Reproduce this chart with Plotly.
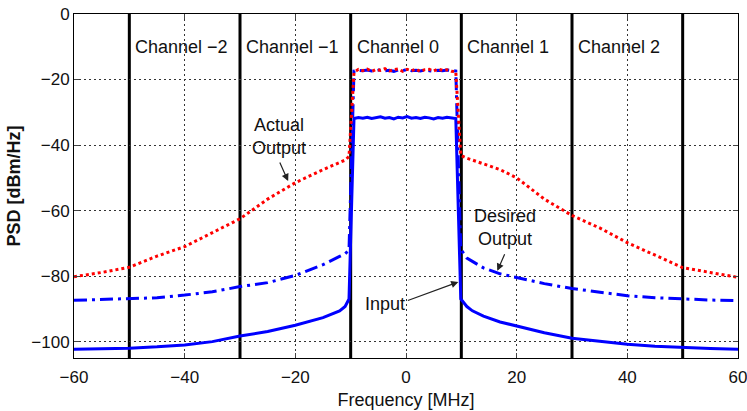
import plotly.graph_objects as go

# ---- data ----
freq_left = [-60, -55, -50, -45, -40, -35, -30, -25, -20, -15, -12, -11, -10.3]
freq_band = [-9.4, -8.6, -7.8, -7.0, -6.2, -5.4, -4.6, -3.8, -3.0, -2.2, -1.4, -0.6,
             0.2, 1.0, 1.8, 2.6, 3.4, 4.2, 5.0, 5.8, 6.6, 7.4, 8.2, 9.0]
freq_right = [9.9, 11, 12, 14, 17, 20, 25, 30, 35, 40, 45, 50, 55, 60]

input_left = [-102.3, -102.2, -102.0, -101.6, -101.0, -100.0, -98.3, -96.9, -95.0, -92.7, -90.6, -89.3, -87.0]
input_band = [-31.9, -31.6, -31.8, -31.5, -31.9, -31.7, -31.4, -31.8, -31.6, -32.0, -31.5, -31.7,
              -31.3, -31.8, -31.6, -31.9, -31.5, -31.7, -32.0, -31.6, -31.8, -31.5, -31.7, -31.9]
input_right = [-87.0, -89.3, -90.6, -92.2, -94.0, -95.2, -97.3, -99.0, -100.0, -100.8, -101.4, -101.8, -102.1, -102.3]

desired_left = [-87.4, -87.1, -86.8, -86.6, -85.8, -84.8, -83.2, -82.0, -79.8, -76.5, -74.0, -73.2, -72.0]
desired_band = [-17.4, -17.2, -17.3, -17.1, -17.4, -17.3, -17.0, -17.3, -17.2, -17.5, -17.1, -17.3,
                -16.9, -17.3, -17.2, -17.4, -17.1, -17.3, -17.5, -17.2, -17.3, -17.1, -17.3, -17.4]
desired_right = [-71.8, -74.5, -75.5, -77.5, -79.3, -80.5, -82.3, -83.8, -85.0, -86.0, -86.6, -87.0, -87.3, -87.5]

actual_left = [-80.2, -78.9, -77.3, -73.9, -71.0, -66.7, -62.5, -56.5, -51.5, -47.5, -45.4, -44.6, -43.5]
actual_band = [-17.8, -16.9, -17.3, -16.8, -17.5, -16.9, -17.2, -16.7, -17.4, -17.0, -16.8, -17.5,
               -16.9, -17.3, -16.8, -17.6, -17.0, -16.9, -17.4, -16.8, -17.2, -17.0, -17.5, -17.6]
actual_right = [-43.2, -44.0, -44.6, -45.6, -47.5, -50.0, -56.5, -61.5, -65.3, -69.8, -73.5, -77.4, -78.9, -80.4]

channel_bounds = [-50, -30, -10, 10, 30, 50]
channel_names = ["Channel −2", "Channel −1", "Channel 0", "Channel 1", "Channel 2"]
channel_label_level = -10

x_ticks = [-60, -40, -20, 0, 20, 40, 60]
y_ticks = [-100, -80, -60, -40, -20, 0]

freq_all = freq_left + freq_band + freq_right

FONT = "Liberation Sans, Arial, sans-serif"
TXT = "#111111"

fig = go.Figure()
fig.add_trace(go.Scatter(x=freq_all, y=input_left + input_band + input_right, mode="lines",
                         line=dict(color="#0000FF", width=3), name="Input"))
fig.add_trace(go.Scatter(x=freq_all, y=desired_left + desired_band + desired_right, mode="lines",
                         line=dict(color="#0000FF", width=3, dash="13px,5px,3px,5px"), name="Desired Output"))
fig.add_trace(go.Scatter(x=freq_all, y=actual_left + actual_band + actual_right, mode="lines",
                         line=dict(color="#FF0000", width=3, dash="3px,3px"), name="Actual Output"))

for b in channel_bounds:
    fig.add_shape(type="line", xref="x", yref="paper", x0=b, x1=b, y0=0, y1=1,
                  line=dict(color="black", width=3), layer="between")

for name, left in zip(channel_names, channel_bounds[:-1]):
    fig.add_annotation(x=left, y=channel_label_level, text=name, showarrow=False,
                       xanchor="left", yanchor="middle", xshift=4,
                       font=dict(family=FONT, size=18, color=TXT))

# text labels
fig.add_annotation(x=-22.95, y=-37.4, text="Actual<br>Output", showarrow=False,
                   font=dict(family=FONT, size=18, color=TXT), align="center")
fig.add_annotation(x=17.9, y=-65.1, text="Desired<br>Output", showarrow=False,
                   font=dict(family=FONT, size=18, color=TXT), align="center")
fig.add_annotation(x=-3.8, y=-88.6, text="Input", showarrow=False,
                   font=dict(family=FONT, size=18, color=TXT), align="center")

# arrows
arrow_style = dict(showarrow=True, arrowhead=2, arrowsize=1.2, arrowwidth=1.2,
                   arrowcolor="#222222", text="", standoff=0, startstandoff=0)
fig.add_annotation(x=-21.3, y=-51.0, ax=-9, ay=-20, **arrow_style)
fig.add_annotation(x=16.5, y=-78.4, ax=8, ay=-18, **arrow_style)
fig.add_annotation(x=9.46, y=-81.8, ax=-52, ay=19, **arrow_style)

fig.update_layout(
    width=747, height=411,
    margin=dict(l=74, r=9, t=14, b=53, autoexpand=False),
    paper_bgcolor="white", plot_bgcolor="white",
    showlegend=False,
    font=dict(family=FONT, color=TXT),
)
fig.update_xaxes(range=[-60, 60], tickvals=x_ticks, ticks="inside", ticklen=5,
                 showline=True, linecolor="black", linewidth=1, mirror="ticks",
                 showgrid=True, gridcolor="#333333", gridwidth=1, griddash="2px,3px",
                 zeroline=False, automargin=False, ticklabeloverflow="allow",
                 ticklabelstandoff=4,
                 tickfont=dict(family=FONT, size=17, color=TXT),
                 title=dict(text="Frequency [MHz]", font=dict(family=FONT, size=18, color=TXT), standoff=6))
fig.update_yaxes(range=[-105, 0], tickvals=y_ticks, ticks="inside", ticklen=5,
                 showline=True, linecolor="black", linewidth=1, mirror="ticks",
                 showgrid=True, gridcolor="#333333", gridwidth=1, griddash="2px,3px",
                 zeroline=False, automargin=False, ticklabeloverflow="allow",
                 tickfont=dict(family=FONT, size=17, color=TXT),
                 title=dict(text="<b>PSD [dBm/Hz]</b>", font=dict(family=FONT, size=18, color=TXT), standoff=6))

fig.write_html("out.html", config={"displayModeBar": False},
               post_script="document.body.style.margin='0';")
